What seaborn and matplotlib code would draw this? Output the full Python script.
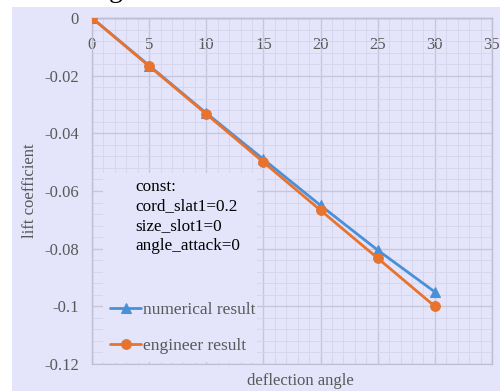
import numpy as np
import pandas as pd
import matplotlib
matplotlib.use("Agg")
import matplotlib.pyplot as plt
from matplotlib.patches import Rectangle
from matplotlib.ticker import MultipleLocator, FuncFormatter
import seaborn as sns

# deflection angle (deg) and lift coefficient for both methods
deflection_angle = [0, 5, 10, 15, 20, 25, 30]
numerical_result = [0.0, -0.0165, -0.0330, -0.0490, -0.0650, -0.0805, -0.0950]
engineer_result = [0.0, -0.0167, -0.0333, -0.0500, -0.0667, -0.0833, -0.1000]
series_names = ["numerical result", "engineer result"]
const_lines = ["const:", "cord_slat1=0.2", "size_slot1=0", "angle_attack=0"]
x_label = "deflection angle"
y_label = "lift coefficient"

BG = "#E4E4FA"
BLUE = "#4A90D9"
ORANGE = "#E8732F"
TXT = "#595959"

sns.set_style("white")
plt.rcParams["font.family"] = ["Liberation Serif", "DejaVu Serif"]
plt.rcParams["axes.unicode_minus"] = False

df = pd.DataFrame({
    "angle": deflection_angle * 2,
    "cl": numerical_result + engineer_result,
    "series": [series_names[0]] * len(deflection_angle) + [series_names[1]] * len(deflection_angle),
})

fig = plt.figure(figsize=(5.0, 3.91), dpi=100)
fig.patch.set_facecolor("white")
fig.add_artist(Rectangle((0.024, 0.0), 0.976, 0.982, transform=fig.transFigure,
                         facecolor=BG, edgecolor="none", zorder=-5))
fig.text(0.232, 1.0 + 3 / 391, "g", fontsize=20, ha="center", va="baseline", color="black")

ax = fig.add_axes([0.184, 0.069, 0.800, 0.885])
ax.set_facecolor(BG)

sns.lineplot(data=df[df.series == series_names[0]], x="angle", y="cl", ax=ax,
             color=BLUE, marker="^", markersize=7.5, markeredgecolor=BLUE,
             linewidth=2.0, label=series_names[0], zorder=4)
sns.lineplot(data=df[df.series == series_names[1]], x="angle", y="cl", ax=ax,
             color=ORANGE, marker="o", markersize=7, markeredgecolor=ORANGE,
             linewidth=2.0, label=series_names[1], zorder=5)

ax.set_xlim(0, 35)
ax.set_ylim(-0.12, 0)
ax.xaxis.set_major_locator(MultipleLocator(5))
ax.xaxis.set_minor_locator(MultipleLocator(1))
ax.yaxis.set_major_locator(MultipleLocator(0.02))
ax.yaxis.set_minor_locator(MultipleLocator(0.004))
ax.yaxis.set_major_formatter(FuncFormatter(lambda v, p: "%g" % round(v, 3)))

ax.grid(which="major", color="#C6C6DC", linewidth=1.0, zorder=0)
ax.grid(which="minor", color="#D6D6EE", linewidth=0.7, zorder=0)
ax.set_axisbelow(True)

# x axis crosses at y = 0
ax.spines["bottom"].set_position(("data", 0))
for s in ax.spines.values():
    s.set_color("#BDBDD4")
    s.set_linewidth(1.0)
ax.tick_params(axis="x", which="both", length=0, pad=14, labelsize=12, labelcolor=TXT)
ax.tick_params(axis="y", which="major", direction="in", length=5, color="#BDBDD4",
               pad=9.5, labelsize=12, labelcolor=TXT)
ax.tick_params(axis="y", which="minor", direction="in", length=4, color="#C8C8DE")

# lower frame edge with small inward ticks
sec = ax.secondary_xaxis(0.0)
sec.xaxis.set_major_locator(MultipleLocator(1))
sec.tick_params(which="both", direction="in", length=4, color="#C8C8DE", labelbottom=False)
sec.spines["bottom"].set_color("#BDBDD4")

ax.set_xlabel(x_label, fontsize=12, color=TXT)
ax.xaxis.set_label_coords(0.52, -0.025)
ax.set_ylabel(y_label, fontsize=12, color=TXT, labelpad=4)

# annotation block covering the grid
ax.add_patch(Rectangle((0.0275, 0.006), 0.385, 0.546, transform=ax.transAxes,
                       facecolor=BG, edgecolor="none", zorder=3))
ax.text(0.1075, 0.535, "\n".join(const_lines), transform=ax.transAxes,
        ha="left", va="top", fontsize=12.3, color="black", linespacing=1.3, zorder=6)

leg = ax.legend(loc="lower left", bbox_to_anchor=(0.045, 0.028), frameon=False,
                borderpad=0, borderaxespad=0, handlelength=1.8, handletextpad=0.1,
                labelspacing=1.15, fontsize=12.5)
for t in leg.get_texts():
    t.set_color(TXT)
leg.set_zorder(6)

fig.savefig("out.png", dpi=100, facecolor=fig.get_facecolor())
